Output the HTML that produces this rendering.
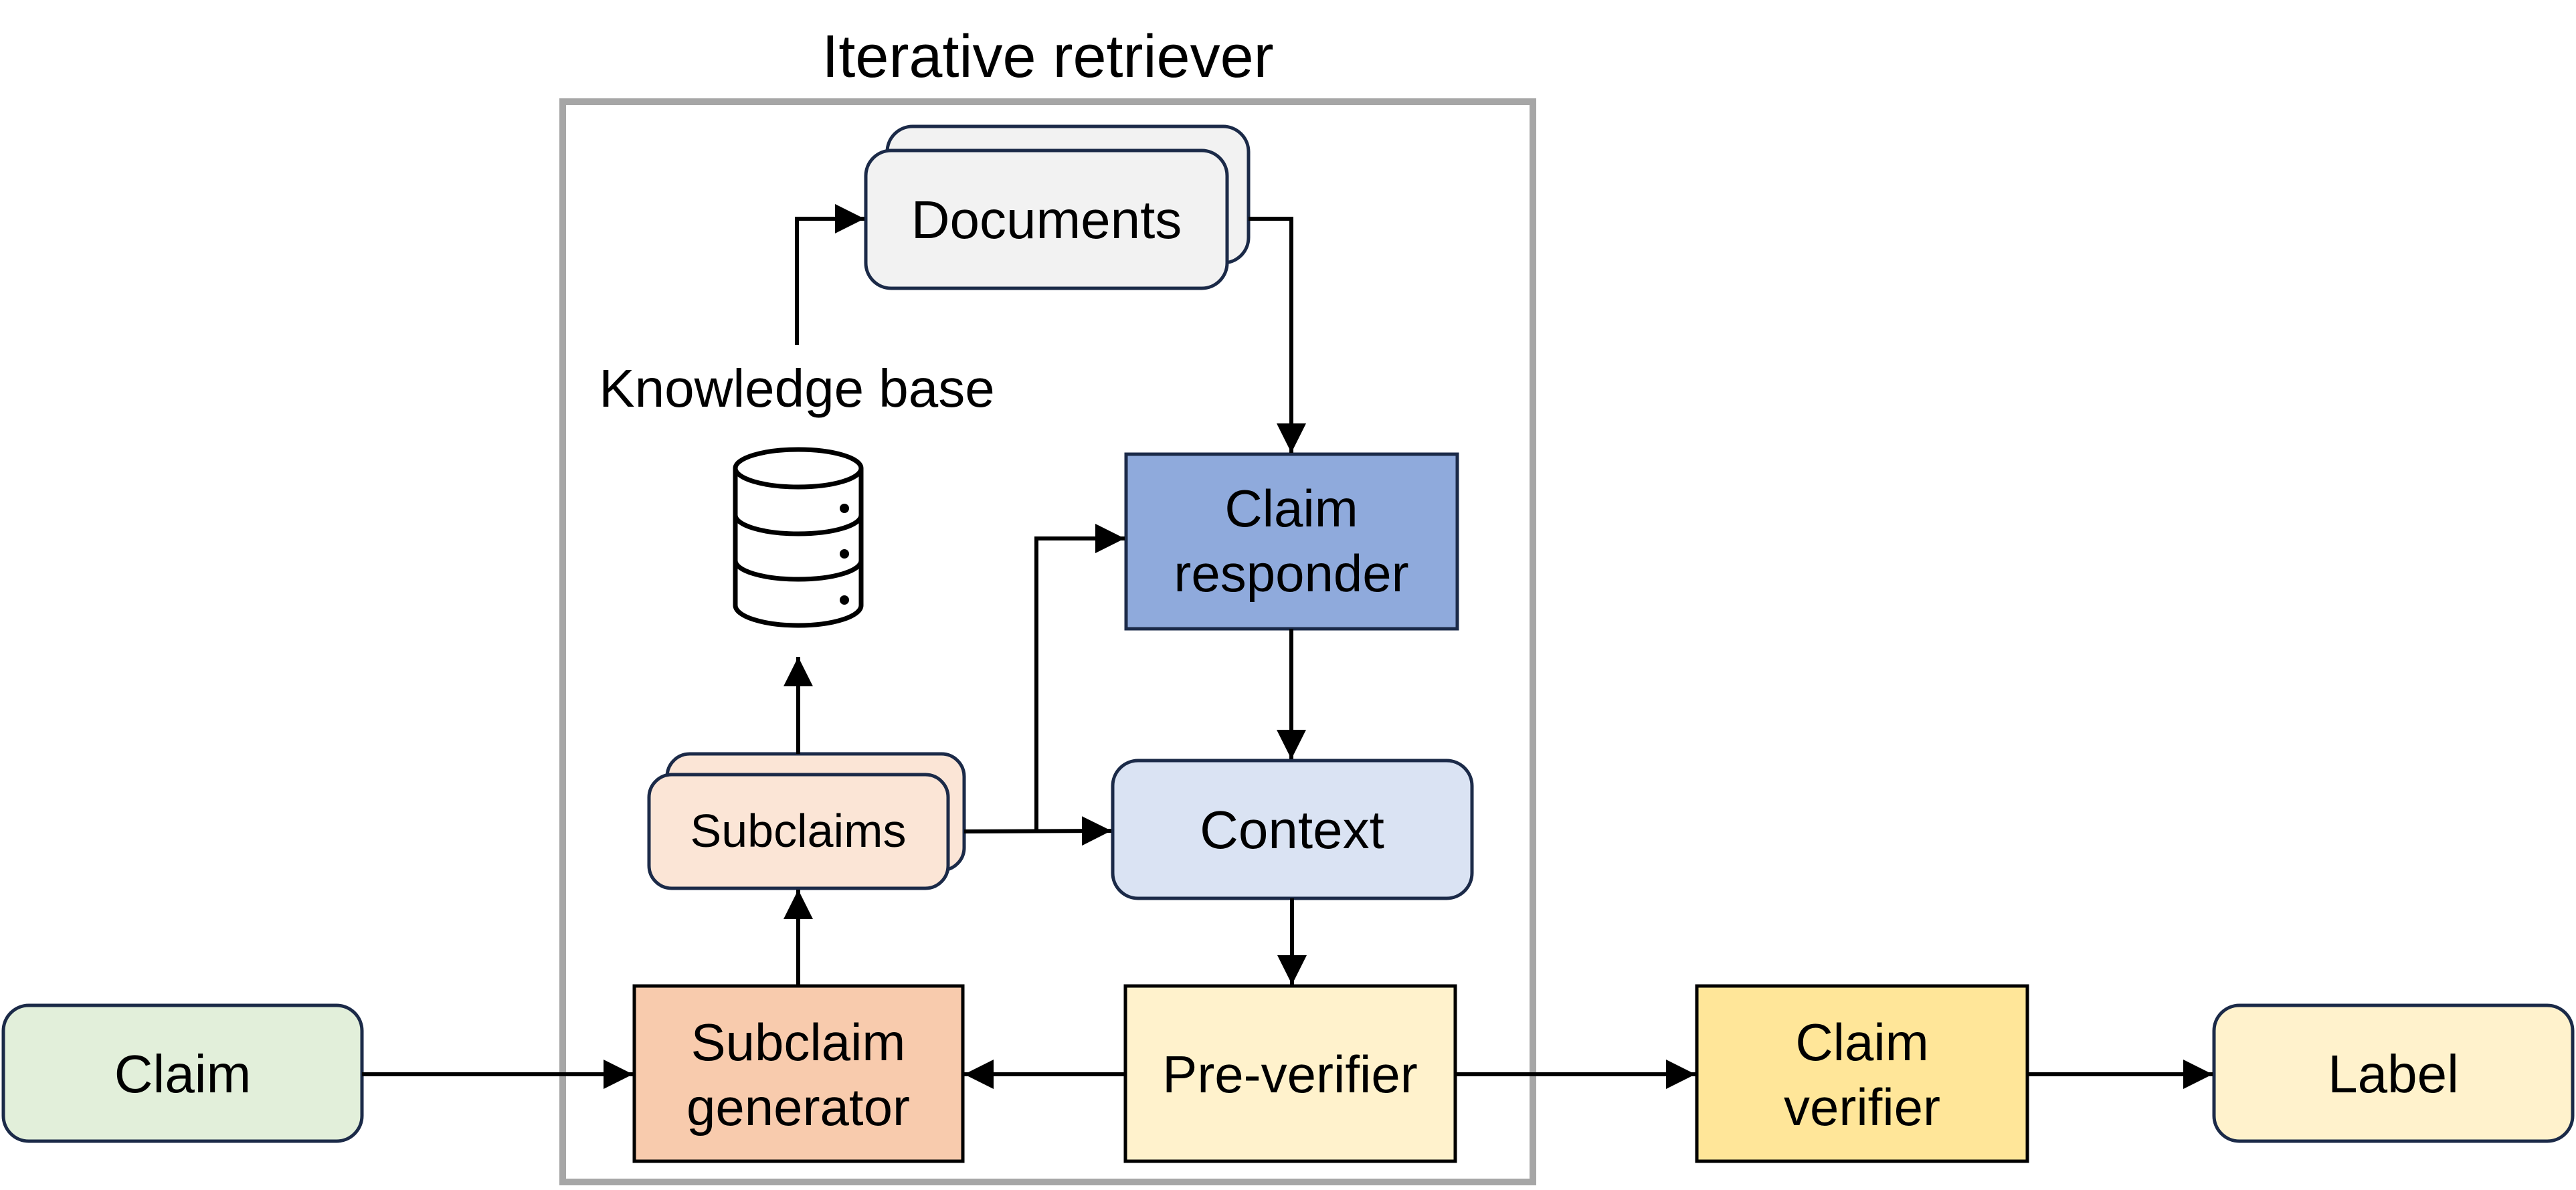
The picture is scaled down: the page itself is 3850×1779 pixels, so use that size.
<!DOCTYPE html>
<html><head><meta charset="utf-8"><style>
html,body{margin:0;padding:0;background:#fff}
svg{display:block}
text{font-family:"Liberation Sans",Arial,sans-serif;fill:#000}
</style></head><body>
<svg width="3850" height="1779" viewBox="0 0 3850 1779" xmlns="http://www.w3.org/2000/svg">
<defs>
<marker id="a" markerWidth="44" markerHeight="44" refX="44" refY="22" orient="auto" markerUnits="userSpaceOnUse">
<path d="M0,0 L44,22 L0,44 z" fill="#000"/>
</marker>
</defs>
<!-- Outer box -->
<rect x="841" y="152" width="1450" height="1615" fill="none" stroke="#a6a6a6" stroke-width="10"/>
<text x="1566" y="115" font-size="90" text-anchor="middle">Iterative retriever</text>

<!-- Documents -->
<rect x="1326" y="189" width="540" height="204" rx="38" fill="#f2f2f2" stroke="#1b2a48" stroke-width="5"/>
<rect x="1294" y="225" width="540" height="206" rx="38" fill="#f2f2f2" stroke="#1b2a48" stroke-width="5"/>
<text x="1564" y="356" font-size="80" text-anchor="middle">Documents</text>

<!-- Knowledge base -->
<text x="1191" y="608" font-size="80" text-anchor="middle">Knowledge base</text>
<g fill="none" stroke="#000" stroke-width="7">
<path d="M1099,700 L1099,905 A94,30 0 0 0 1287,905 L1287,700"/>
<ellipse cx="1193" cy="700" rx="94" ry="28" fill="#fff"/>
<path d="M1099,770 A94,28 0 0 0 1287,770"/>
<path d="M1099,838 A94,28 0 0 0 1287,838"/>
</g>
<circle cx="1262" cy="760" r="7" fill="#000"/>
<circle cx="1262" cy="828" r="7" fill="#000"/>
<circle cx="1262" cy="897" r="7" fill="#000"/>

<!-- Claim responder -->
<rect x="1683" y="679" width="495" height="261" fill="#8faadc" stroke="#1b2a48" stroke-width="5"/>
<text x="1930" y="787" font-size="78" text-anchor="middle">Claim</text>
<text x="1930" y="884" font-size="78" text-anchor="middle">responder</text>

<!-- Subclaims -->
<rect x="997" y="1127" width="444" height="174" rx="34" fill="#fbe5d6" stroke="#1b2a48" stroke-width="5"/>
<rect x="970" y="1158" width="447" height="170" rx="34" fill="#fbe5d6" stroke="#1b2a48" stroke-width="5"/>
<text x="1193" y="1266" font-size="70" text-anchor="middle">Subclaims</text>

<!-- Context -->
<rect x="1663" y="1137" width="537" height="206" rx="38" fill="#dae3f3" stroke="#1b2a48" stroke-width="5"/>
<text x="1931" y="1268" font-size="80" text-anchor="middle">Context</text>

<!-- Claim -->
<rect x="5" y="1503" width="536" height="203" rx="38" fill="#e2efda" stroke="#1b2a48" stroke-width="5"/>
<text x="273" y="1633" font-size="80" text-anchor="middle">Claim</text>

<!-- Subclaim generator -->
<rect x="948" y="1474" width="491" height="262" fill="#f8cbad" stroke="#000" stroke-width="5"/>
<text x="1193" y="1585" font-size="78" text-anchor="middle">Subclaim</text>
<text x="1193" y="1682" font-size="78" text-anchor="middle">generator</text>

<!-- Pre-verifier -->
<rect x="1682" y="1474" width="493" height="262" fill="#fff2cc" stroke="#000" stroke-width="5"/>
<text x="1928" y="1633" font-size="78" text-anchor="middle">Pre-verifier</text>

<!-- Claim verifier -->
<rect x="2536" y="1474" width="494" height="262" fill="#ffe699" stroke="#000" stroke-width="5"/>
<text x="2783" y="1585" font-size="78" text-anchor="middle">Claim</text>
<text x="2783" y="1682" font-size="78" text-anchor="middle">verifier</text>

<!-- Label -->
<rect x="3309" y="1503" width="536" height="203" rx="38" fill="#fff2cc" stroke="#1b2a48" stroke-width="5"/>
<text x="3577" y="1633" font-size="80" text-anchor="middle">Label</text>

<!-- Connectors -->
<g fill="none" stroke="#000" stroke-width="6">
<path d="M1191,516 L1191,327 L1292,327" marker-end="url(#a)"/>
<path d="M1866,327 L1930,327 L1930,677" marker-end="url(#a)"/>
<path d="M1930,940 L1930,1135" marker-end="url(#a)"/>
<path d="M1931,1343 L1931,1472" marker-end="url(#a)"/>
<path d="M1441,1243 L1661,1242" marker-end="url(#a)"/>
<path d="M1549,1243 L1549,805 L1681,805" marker-end="url(#a)"/>
<path d="M1193,1127 L1193,982" marker-end="url(#a)"/>
<path d="M1193,1474 L1193,1330" marker-end="url(#a)"/>
<path d="M541,1606 L946,1606" marker-end="url(#a)"/>
<path d="M1682,1606 L1441,1606" marker-end="url(#a)"/>
<path d="M2175,1606 L2534,1606" marker-end="url(#a)"/>
<path d="M3030,1606 L3307,1606" marker-end="url(#a)"/>
</g>
</svg>
</body></html>
